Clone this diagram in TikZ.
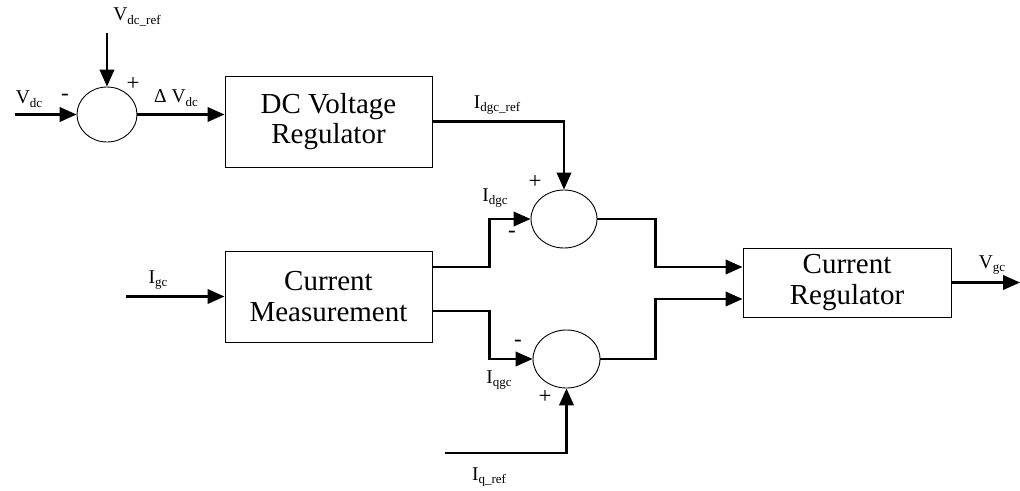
\documentclass[tikz,border=0pt]{standalone}
\usepackage{fontspec}
\setmainfont{Liberation Serif}
\usetikzlibrary{shapes.geometric, arrows.meta}
\newcommand\lsub[1]{\raisebox{-3.5pt}{\fontsize{13}{13}\selectfont #1}}

\begin{document}
\begin{tikzpicture}[x=1pt,y=-1pt,
  block/.style={draw=black, line width=1pt, minimum width=207pt, minimum height=91pt, align=center, inner sep=0pt, font=\fontsize{29}{30.5}\selectfont},
  sumjct/.style={ellipse, draw=black, line width=0.9pt, minimum width=66pt, minimum height=58pt, inner sep=0pt},
  sig/.style={line width=2.3pt, -{Triangle[length=17pt,width=14.5pt]}},
  lbl/.style={inner sep=0pt, font=\fontsize{19.5}{20}\selectfont},
  sgn/.style={inner sep=0pt, font=\fontsize{23}{24}\selectfont}]
\useasboundingbox (0,0) rectangle (1020,490);
\node[block] (dcreg) at (328.5,121.5) {DC Voltage\\Regulator};
\node[block] (meas) at (328.5,296.5) {Current\\Measurement};
\node[block, minimum width=208pt, minimum height=69pt] (curreg) at (847,282.5) {Current\\Regulator};
\node[sumjct, minimum width=60pt, minimum height=55pt] (sum1) at (107,114.5) {};
\node[sumjct] (sum2) at (564,219) {};
\node[sumjct, minimum width=67pt] (sum3) at (566.5,359) {};
\coordinate (vdcin) at (15,114.5);
\coordinate (vdcref) at (107,33);
\coordinate (igcin) at (126,296.5);
\coordinate (iqref) at (445,453);
\coordinate (vgcout) at (1020,282.5);
% signal paths
\draw[sig] (vdcin) -- (sum1.west);
\draw[sig] (vdcref) -- (sum1.north);
\draw[sig] (sum1.east) -- (sum1.east -| dcreg.west);
\draw[sig] (dcreg.east) -| (sum2.north);
\draw[sig] (igcin) -- (meas.west);
\draw[sig] ([yshift=29.5pt]meas.east) -- ++(57,0) |- (sum2.west);
\draw[sig] ([yshift=-14.5pt]meas.east) -- ++(57,0) |- (sum3.west);
\draw[sig] (iqref) -| (sum3.south);
\draw[sig] (sum2.east) -- ++(58,0) |- ([yshift=15.5pt]curreg.west);
\draw[sig] (sum3.east) -- ++(55,0) |- ([yshift=-16.5pt]curreg.west);
\draw[sig] (curreg.east) -- (vgcout);
% labels
\node[lbl] (lvdcref) at (137,17) {V\lsub{dc\_ref}};
\node[lbl] (lvdc) at (29,99) {V\lsub{dc}};
\node[lbl] (ldvdc) at (176,98) {Δ V\lsub{dc}};
\node[lbl] (lidgcref) at (497,105) {I\lsub{dgc\_ref}};
\node[lbl] (lidgc) at (495,198) {I\lsub{dgc}};
\node[lbl] (ligc) at (158,280) {I\lsub{gc}};
\node[lbl] (liqgc) at (499,380) {I\lsub{qgc}};
\node[lbl] (liqref) at (489,477) {I\lsub{q\_ref}};
\node[lbl] (lvgc) at (992,265) {V\lsub{gc}};
\node[sgn] (psum1) at (133,84) {+};
\node[sgn] (msum1) at (65,97) {-};
\node[sgn] (psum2) at (535,182) {+};
\node[sgn] (msum2) at (512,234) {-};
\node[sgn] (msum3) at (518,343) {-};
\node[sgn] (psum3) at (545,397) {+};
\end{tikzpicture}
\end{document}
